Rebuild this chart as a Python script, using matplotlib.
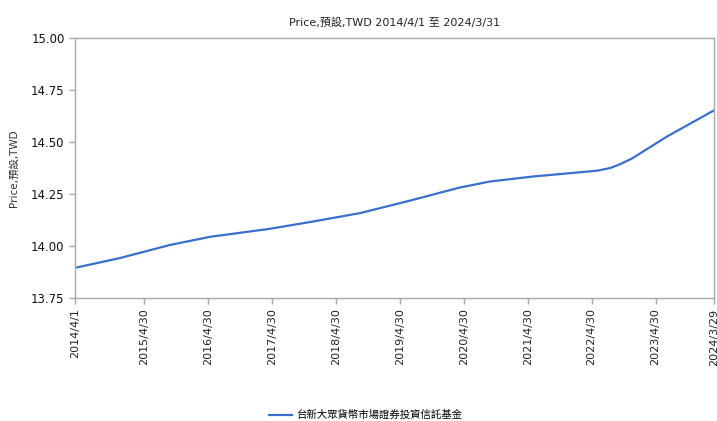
import matplotlib
matplotlib.use('Agg')
import matplotlib.pyplot as plt
import numpy as np
import pandas as pd

plt.rcParams['font.family'] = ['DejaVu Sans', 'Noto Sans CJK TC']

# data
dates = ['2014-04-01', '2014-12-14', '2015-09-26', '2016-05-11', '2017-04-13',
         '2017-12-03', '2018-09-15', '2019-06-27', '2020-04-02', '2020-09-26',
         '2021-05-30', '2022-05-31', '2022-08-15', '2022-10-09', '2022-12-15',
         '2023-07-04', '2024-03-29']
prices = [13.895, 13.942, 14.005, 14.044, 14.082,
          14.115, 14.158, 14.218, 14.280, 14.310,
          14.334, 14.362, 14.375, 14.393, 14.420,
          14.526, 14.652]
series_name = '台新大眾貨幣市場證券投資信託基金'

tick_dates = ['2014-04-01', '2015-04-30', '2016-04-30', '2017-04-30', '2018-04-30',
              '2019-04-30', '2020-04-30', '2021-04-30', '2022-04-30', '2023-04-30',
              '2024-03-29']
tick_labels = ['2014/4/1', '2015/4/30', '2016/4/30', '2017/4/30', '2018/4/30',
               '2019/4/30', '2020/4/30', '2021/4/30', '2022/4/30', '2023/4/30',
               '2024/3/29']
y_ticks = [13.75, 14.00, 14.25, 14.50, 14.75, 15.00]

x = pd.to_datetime(dates)

fig = plt.figure(figsize=(7.17, 4.21), dpi=100)
ax = fig.add_axes([0.1046, 0.2922, 0.8912, 0.6175])

ax.plot(x, prices, color='#3b6fcc', linewidth=1.6, label=series_name)

ax.set_xlim(pd.Timestamp('2014-04-01'), pd.Timestamp('2024-03-29'))
ax.set_ylim(13.75, 15.00)
ax.set_xticks(pd.to_datetime(tick_dates))
ax.set_xticklabels(tick_labels, rotation=90, fontsize=8, color='#222222')
ax.set_yticks(y_ticks)
ax.set_yticklabels(['%.2f' % v for v in y_ticks], fontsize=8.5, color='#111111')

for s in ax.spines.values():
    s.set_color('#a8a8b0')
    s.set_linewidth(1.0)
ax.tick_params(axis='both', direction='out', color='#a8a8b0', length=4, width=1)

ax.set_ylabel('Price,預設,TWD', fontsize=7.5, color='#333333', labelpad=9)
ax.set_title('Price,預設,TWD 2014/4/1 至 2024/3/31', fontsize=8, color='#222222', pad=9)

fig.legend(loc='center', bbox_to_anchor=(0.51, 0.014), frameon=False, fontsize=7.5,
           handlelength=2.2, handletextpad=0.5)

fig.savefig('out.png', dpi=100)
plt.close()
